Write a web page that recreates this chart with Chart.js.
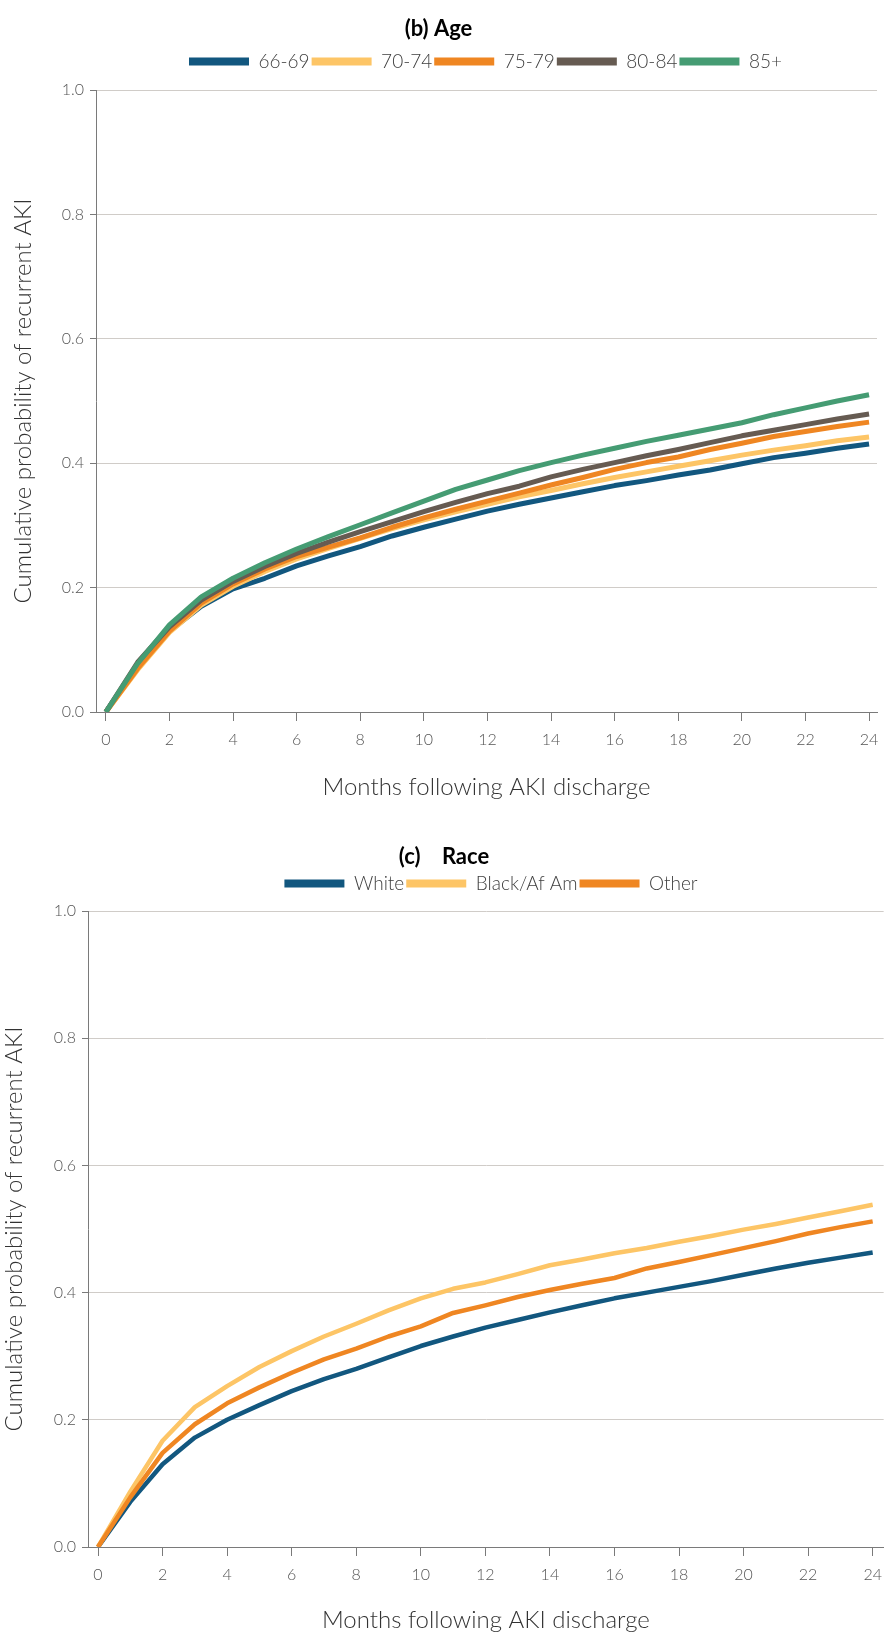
<!DOCTYPE html>
<html>
<head>
<meta charset="utf-8">
<script src="https://cdn.jsdelivr.net/npm/chart.js@4.4.1/dist/chart.umd.min.js"></script>
<style>
  html, body { margin: 0; padding: 0; background: #fff; }
  .box { position: relative; width: 891px; }
  #ageBox { height: 800px; }
  #raceBox { height: 842px; }
</style>
</head>
<body>
<div class="box" id="ageBox"><canvas id="ageChart"></canvas></div>
<div class="box" id="raceBox"><canvas id="raceChart"></canvas></div>
<script>
// months 0..24
const months = [0, 1, 2, 3, 4, 5, 6, 7, 8, 9, 10, 11, 12, 13, 14, 15, 16, 17, 18, 19, 20, 21, 22, 23, 24];
const xTicks = [0, 2, 4, 6, 8, 10, 12, 14, 16, 18, 20, 22, 24];
const xTickLabels = ["0", "2", "4", "6", "8", "10", "12", "14", "16", "18", "20", "22", "24"];
const yTickLabels = ["0.0", "0.2", "0.4", "0.6", "0.8", "1.0"];

// (b) Age
const ageLabels = ["66-69", "70-74", "75-79", "80-84", "85+"];
const age6669 = [0, 0.075, 0.13, 0.17, 0.198, 0.215, 0.235, 0.251, 0.266, 0.283, 0.297, 0.31, 0.323, 0.334, 0.344, 0.354, 0.364, 0.372, 0.381, 0.389, 0.399, 0.409, 0.416, 0.424, 0.431];
const age7074 = [0, 0.068, 0.128, 0.172, 0.202, 0.226, 0.246, 0.263, 0.279, 0.295, 0.309, 0.322, 0.334, 0.346, 0.356, 0.367, 0.377, 0.386, 0.395, 0.404, 0.413, 0.421, 0.428, 0.436, 0.442];
const age7579 = [0, 0.07, 0.13, 0.175, 0.206, 0.23, 0.25, 0.265, 0.28, 0.297, 0.312, 0.326, 0.339, 0.352, 0.365, 0.377, 0.39, 0.401, 0.41, 0.422, 0.432, 0.443, 0.451, 0.459, 0.466];
const age8084 = [0, 0.08, 0.137, 0.18, 0.21, 0.234, 0.255, 0.273, 0.29, 0.306, 0.322, 0.337, 0.351, 0.363, 0.378, 0.39, 0.401, 0.412, 0.422, 0.433, 0.444, 0.453, 0.462, 0.471, 0.479];
const age85 = [0, 0.078, 0.14, 0.185, 0.215, 0.24, 0.262, 0.282, 0.301, 0.32, 0.339, 0.358, 0.373, 0.388, 0.401, 0.413, 0.424, 0.435, 0.445, 0.455, 0.465, 0.478, 0.489, 0.5, 0.51];

// (c) Race
const raceLabels = ["White", "Black/Af Am", "Other"];
const raceWhite = [0, 0.071, 0.13, 0.172, 0.2, 0.223, 0.245, 0.264, 0.28, 0.298, 0.316, 0.331, 0.345, 0.357, 0.369, 0.38, 0.391, 0.4, 0.409, 0.418, 0.428, 0.438, 0.447, 0.455, 0.463];
const raceBlack = [0, 0.087, 0.167, 0.22, 0.253, 0.283, 0.308, 0.331, 0.351, 0.372, 0.391, 0.406, 0.416, 0.429, 0.443, 0.452, 0.462, 0.47, 0.48, 0.489, 0.499, 0.508, 0.518, 0.528, 0.538];
const raceOther = [0, 0.078, 0.148, 0.193, 0.226, 0.251, 0.274, 0.295, 0.312, 0.331, 0.347, 0.368, 0.38, 0.393, 0.404, 0.414, 0.423, 0.438, 0.448, 0.459, 0.47, 0.481, 0.493, 0.503, 0.512];

const BLUE = "#12577f", YELLOW = "#fdc566", ORANGE = "#ef8622", BROWN = "#665b52", GREEN = "#459c73";

Chart.defaults.font.family = "Lato, 'Open Sans', sans-serif";
Chart.defaults.animation = false;

// nudge legend so it sits where the original one does
const shiftBoxes = {
    id: "shiftBoxes",
    afterLayout(chart, args, opts) {
        const lg = chart.legend;
        if (!lg) return;
        lg.left += opts.dx; lg.right += opts.dx;
        lg.top += opts.dy; lg.bottom += opts.dy;
    }
};

function line(label, data, color, width, order) {
    return { label, data, borderColor: color, backgroundColor: color, borderWidth: width, pointRadius: 0, tension: 0, fill: false, borderJoinStyle: "round", order };
}

function makeOptions(cfg) {
    return {
        responsive: true,
        maintainAspectRatio: false,
        layout: { padding: { left: 0, right: cfg.padRight, top: 0, bottom: 0 } },
        plugins: {
            title: { display: true, text: cfg.title, color: "#000", font: { size: 22, weight: "bold" }, padding: { top: cfg.titleTop, bottom: cfg.titleBottom } },
            legend: {
                position: "top",
                labels: {
                    boxWidth: 60, boxHeight: 8, padding: 2, color: "#404040",
                    font: { size: 19, weight: "300" },
                    sort: (a, b) => a.datasetIndex - b.datasetIndex,
                    generateLabels: chart => Chart.defaults.plugins.legend.labels.generateLabels(chart).map(l => ({ ...l, lineWidth: 0 }))
                }
            },
            tooltip: { enabled: false },
            shiftBoxes: { dx: 47, dy: cfg.legendDy }
        },
        scales: {
            x: {
                type: "linear", min: -0.31, max: cfg.xMax,
                afterBuildTicks: s => { s.ticks = xTicks.map(v => ({ value: v })); },
                ticks: { padding: 9, color: "#555", font: { size: 16, weight: "300" }, maxRotation: 0, callback: (v, i) => xTickLabels[i] },
                grid: { drawOnChartArea: false, tickLength: 9, tickColor: "#7a7a7a" },
                border: { color: "#7a7a7a" },
                title: { display: true, text: "Months following AKI discharge", color: "#333", font: { size: 24, weight: "300" }, padding: { top: cfg.xTitleTop, bottom: cfg.xTitleBottom } }
            },
            y: {
                min: 0, max: 1,
                afterFit: s => { s.width = cfg.yWidth; },
                ticks: { stepSize: 0.2, padding: 6, color: "#555", font: { size: 16, weight: "300" }, callback: (v, i) => yTickLabels[i] },
                grid: { color: "#d0ccc8", tickColor: "#7a7a7a", tickLength: 6 },
                border: { color: "#7a7a7a" },
                title: { display: true, text: "Cumulative probability of recurrent AKI", color: "#333", font: { size: 24, weight: "300" }, padding: { top: cfg.yTitleTop, bottom: 0 } }
            }
        }
    };
}

new Chart(document.getElementById("ageChart"), {
    type: "line",
    data: {
        labels: months,
        datasets: [
            line(ageLabels[0], age6669, BLUE, 5, 5),
            line(ageLabels[1], age7074, YELLOW, 5, 4),
            line(ageLabels[2], age7579, ORANGE, 5, 3),
            line(ageLabels[3], age8084, BROWN, 5, 2),
            line(ageLabels[4], age85, GREEN, 5, 1)
        ]
    },
    options: makeOptions({ title: "(b) Age", titleTop: 16, titleBottom: 16.6, legendDy: -9, padRight: 14, xMax: 24.25, xTitleTop: 15, xTitleBottom: -2, yWidth: 96, yTitleTop: 9 }),
    plugins: [shiftBoxes]
});

new Chart(document.getElementById("raceChart"), {
    type: "line",
    data: {
        labels: months,
        datasets: [
            line(raceLabels[0], raceWhite, BLUE, 4.5, 3),
            line(raceLabels[1], raceBlack, YELLOW, 4.5, 2),
            line(raceLabels[2], raceOther, ORANGE, 4.5, 1)
        ]
    },
    options: makeOptions({ title: "(c)    Race", titleTop: 44, titleBottom: 9.6, legendDy: -8, padRight: 3, xMax: 24.34, xTitleTop: 13, xTitleBottom: 7, yWidth: 88, yTitleTop: 0 }),
    plugins: [shiftBoxes]
});
</script>
</body>
</html>
